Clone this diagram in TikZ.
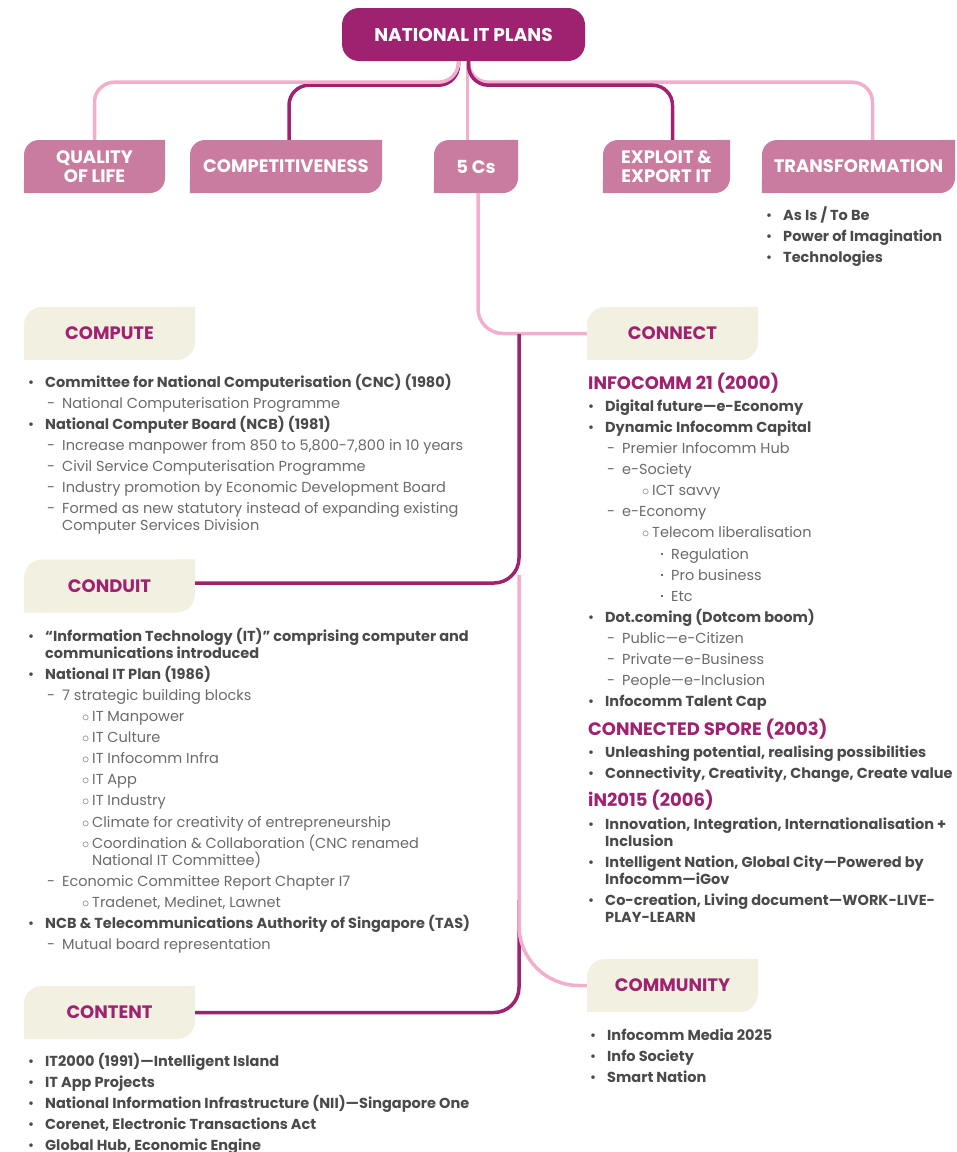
\documentclass[tikz,border=0pt]{standalone}
\usepackage{fontspec}
\setmainfont{Poppins}
\usetikzlibrary{positioning}

\definecolor{plum}{HTML}{9E2270}
\definecolor{rosepink}{HTML}{F3AECD}
\definecolor{mauve}{HTML}{C97C9F}
\definecolor{cream}{HTML}{F2F0E1}
\definecolor{inkdark}{HTML}{4A4A4A}
\definecolor{inklight}{HTML}{6A6A6A}

% list lines
\newcommand{\topline}{\rule{0pt}{15pt}}
\newcommand{\headline}{\rule{0pt}{18pt}}
\newcommand{\lbul}[1]{{\color{inkdark}\makebox[17pt][l]{\textbullet}\textbf{#1}}}
\newcommand{\ldash}[1]{\hspace*{19pt}\makebox[15pt][l]{-}#1}
\newcommand{\lcirc}[1]{\hspace*{54pt}\makebox[10pt][l]{$\circ$}#1}
\newcommand{\lsq}[1]{\hspace*{73pt}\makebox[10pt][l]{\raisebox{4pt}{\rule{2.2pt}{2.2pt}}}#1}
\newcommand{\lhead}[1]{{\fontsize{18}{21.1}\selectfont\color{plum}\textbf{#1}}}
% square off two corners of a tab
\newcommand{\leafcorners}[3]{\fill[#2] (#1.north east) rectangle ++(-#3,-#3) (#1.south west) rectangle ++(#3,#3);}

\tikzset{
  plantab/.style={fill=plum, text=white, rounded corners=17pt, minimum width=243pt,
    minimum height=53pt, font=\bfseries\fontsize{18.5}{20}\selectfont},
  pinktab/.style={fill=mauve, text=white, rounded corners=15pt, minimum height=53pt,
    align=center, inner sep=0pt, font=\bfseries\fontsize{18}{19}\selectfont},
  creamtab/.style={fill=cream, text=plum, rounded corners=18pt, minimum width=171pt,
    minimum height=53pt, font=\bfseries\fontsize{18}{20}\selectfont},
  darkline/.style={draw=plum, line width=3.5pt, rounded corners=20pt},
  pinkline/.style={draw=rosepink, line width=3.5pt, rounded corners=20pt},
  itemlist/.style={anchor=north west, inner sep=0pt, align=left, text=inklight,
    font=\fontsize{14.5}{21.1}\selectfont},
}

\begin{document}
\begin{tikzpicture}[x=1pt,y=-1pt]
\useasboundingbox (0,0) rectangle (957,1152);

% top row
\node[plantab] (plans) at (463.5,34.5) {NATIONAL IT PLANS};
\node[pinktab, minimum width=141pt] (qol) at (94.5,166.5) {QUALITY\\OF LIFE};
\node[pinktab, minimum width=192pt] (comp) at (286,166.5) {COMPETITIVENESS};
\node[pinktab, minimum width=84pt] (fivecs) at (476,166.5) {5 Cs};
\node[pinktab, minimum width=127pt] (exploit) at (666.5,166.5) {EXPLOIT \&\\EXPORT IT};
\node[pinktab, minimum width=193pt] (transf) at (858.5,166.5) {TRANSFORMATION};
\leafcorners{qol}{mauve}{14pt}
\leafcorners{comp}{mauve}{14pt}
\leafcorners{fivecs}{mauve}{14pt}
\leafcorners{exploit}{mauve}{14pt}
\leafcorners{transf}{mauve}{14pt}

\draw[darkline] ([xshift=-5pt]plans.south) -- ++(0,24) -| ([xshift=3pt]comp.north);
\draw[pinkline] ([xshift=-5pt]plans.south) -- ++(0,21) -| (qol.north);
\draw[pinkline] ([xshift=4pt]plans.south) -- ([xshift=4pt]plans.south |- fivecs.north);
\draw[pinkline] ([xshift=5pt]plans.south) -- ++(0,21) -| ([xshift=14pt]transf.north);
\draw[darkline] ([xshift=5pt]plans.south) -- ++(0,24) -| ([xshift=6pt]exploit.north);

% the 5 Cs
\node[creamtab] (compute) at (109.5,333.5) {COMPUTE};
\node[creamtab] (connect) at (672.5,333.5) {CONNECT};
\node[creamtab] (conduit) at (109.5,586) {CONDUIT};
\node[creamtab] (community) at (672.5,985.5) {COMMUNITY};
\node[creamtab] (content) at (109.5,1012.5) {CONTENT};
\leafcorners{compute}{cream}{18pt}
\leafcorners{connect}{cream}{18pt}
\leafcorners{conduit}{cream}{18pt}
\leafcorners{community}{cream}{18pt}
\leafcorners{content}{cream}{18pt}

\coordinate (trunktop) at (519,334);
\coordinate (trunkmid) at (519,575);
\coordinate (trunklow) at (519,900);
\draw[pinkline, rounded corners=25pt] ([xshift=2pt]fivecs.south) |- (connect.west);
\draw[darkline, rounded corners=25pt] (trunklow) |- (content.east);
\draw[pinkline, rounded corners=60pt] (trunkmid) |- (community.west);
\draw[darkline, rounded corners=25pt] (trunktop) |- ([yshift=3pt]conduit.east);

% lists
\node[itemlist] (transflist) at (766,205) {\topline\lbul{As Is / To Be}\\
\lbul{Power of Imagination}\\
\lbul{Technologies}};

\node[itemlist] (computelist) at (28,372) {\topline\lbul{Committee for National Computerisation (CNC) (1980)}\\
\ldash{National Computerisation Programme}\\
\lbul{National Computer Board (NCB) (1981)}\\
\ldash{Increase manpower from 850 to 5,800-7,800 in 10 years}\\
\ldash{Civil Service Computerisation Programme}\\
\ldash{Industry promotion by Economic Development Board}\\
\ldash{Formed as new statutory instead of expanding existing}\\[-4.1pt]
\hspace*{34pt}Computer Services Division};

\node[itemlist] (conduitlist) at (28,626) {\topline\lbul{“Information Technology (IT)” comprising computer and}\\[-4.1pt]
\hspace*{17pt}{\color{inkdark}\textbf{communications introduced}}\\
\lbul{National IT Plan (1986)}\\
\ldash{7 strategic building blocks}\\
\lcirc{IT Manpower}\\
\lcirc{IT Culture}\\
\lcirc{IT Infocomm Infra}\\
\lcirc{IT App}\\
\lcirc{IT Industry}\\
\lcirc{Climate for creativity of entrepreneurship}\\
\lcirc{Coordination \& Collaboration (CNC renamed}\\[-4.1pt]
\hspace*{64pt}National IT Committee)\\
\ldash{Economic Committee Report Chapter I7}\\
\lcirc{Tradenet, Medinet, Lawnet}\\
\lbul{NCB \& Telecommunications Authority of Singapore (TAS)}\\
\ldash{Mutual board representation}};

\node[itemlist] (contentlist) at (28,1051) {\topline\lbul{IT2000 (1991)—Intelligent Island}\\
\lbul{IT App Projects}\\
\lbul{National Information Infrastructure (NII)—Singapore One}\\
\lbul{Corenet, Electronic Transactions Act}\\
\lbul{Global Hub, Economic Engine}};

\node[itemlist] (infocomm) at (588,371) {\headline\lhead{INFOCOMM 21 (2000)}\\[1pt]
\lbul{Digital future—e-Economy}\\
\lbul{Dynamic Infocomm Capital}\\
\ldash{Premier Infocomm Hub}\\
\ldash{e-Society}\\
\lcirc{ICT savvy}\\
\ldash{e-Economy}\\
\lcirc{Telecom liberalisation}\\
\lsq{Regulation}\\
\lsq{Pro business}\\
\lsq{Etc}\\
\lbul{Dot.coming (Dotcom boom)}\\
\ldash{Public—e-Citizen}\\
\ldash{Private—e-Business}\\
\ldash{People—e-Inclusion}\\
\lbul{Infocomm Talent Cap}};

\node[itemlist] (spore) at (588,717) {\headline\lhead{CONNECTED SPORE (2003)}\\[1pt]
\lbul{Unleashing potential, realising possibilities}\\
\lbul{Connectivity, Creativity, Change, Create value}};

\node[itemlist] (intwenty) at (588,788) {\headline\lhead{iN2015 (2006)}\\[2pt]
\lbul{Innovation, Integration, Internationalisation +}\\[-4.1pt]
\hspace*{17pt}{\color{inkdark}\textbf{Inclusion}}\\
\lbul{Intelligent Nation, Global City—Powered by}\\[-4.1pt]
\hspace*{17pt}{\color{inkdark}\textbf{Infocomm—iGov}}\\
\lbul{Co-creation, Living document—WORK-LIVE-}\\[-4.1pt]
\hspace*{17pt}{\color{inkdark}\textbf{PLAY-LEARN}}};

\node[itemlist] (communitylist) at (590,1025) {\topline\lbul{Infocomm Media 2025}\\
\lbul{Info Society}\\
\lbul{Smart Nation}};
\end{tikzpicture}
\end{document}
